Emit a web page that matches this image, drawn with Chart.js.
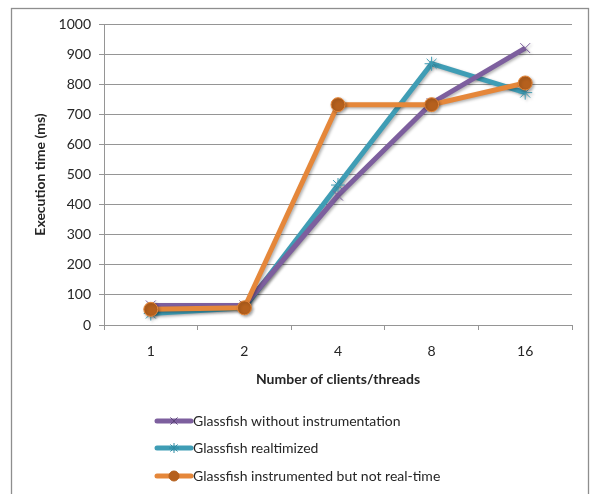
<!DOCTYPE html>
<html>
<head>
<meta charset="utf-8">
<script src="https://cdn.jsdelivr.net/npm/chart.js@4"></script>
<style>
  html, body { margin: 0; padding: 0; background: #fff; }
  #wrap { width: 592px; height: 494px; position: relative; }
</style>
</head>
<body>
<div id="wrap"><canvas id="chart" width="592" height="494"></canvas></div>
<script>
// Number of concurrent clients/threads
const categories = ['1', '2', '4', '8', '16'];

// Execution time (ms) per configuration
const withoutInstrumentation = [65, 65, 430, 737, 920];
const realtimized = [38, 57, 465, 868, 772];
const instrumentedNotRealtime = [52, 57, 732, 732, 804];

const seriesNames = [
  'Glassfish without instrumentation',
  'Glassfish realtimized',
  'Glassfish instrumented but not real-time'
];

const yMin = 0, yMax = 1000, yStep = 100;

const FONT = 'Lato, "Open Sans", "Liberation Sans", sans-serif';
const FS = 14;
const TEXT = '#262626';
const GRID = '#959595';

const PURPLE = '#7d5f9e';
const TEAL = '#3f9db5';
const ORANGE = '#e5873a';
const ORANGE_DARK = '#b5601d';

// outer frame around the chart
const framePlugin = {
  id: 'frame',
  beforeDraw(chart) {
    const ctx = chart.ctx;
    ctx.save();
    ctx.fillStyle = '#fff';
    ctx.fillRect(0, 0, chart.width, chart.height);
    ctx.strokeStyle = '#8e8e8e';
    ctx.lineWidth = 1.3;
    ctx.strokeRect(11.5, 8.5, 577, 500);
    ctx.restore();
  }
};

// soft drop shadow under the series
const shadowPlugin = {
  id: 'seriesShadow',
  beforeDatasetsDraw(chart) {
    const ctx = chart.ctx;
    ctx.save();
    ctx.shadowColor = 'rgba(0,0,0,0.30)';
    ctx.shadowBlur = 3;
    ctx.shadowOffsetX = 1.5;
    ctx.shadowOffsetY = 1.5;
  },
  afterDatasetsDraw(chart) {
    chart.ctx.restore();
  }
};

// vertical legend stacked under the axis title
const legendPlugin = {
  id: 'stackedLegend',
  afterDraw(chart) {
    const ctx = chart.ctx;
    const x0 = 157, x1 = 191, textX = 193;
    const rows = [421, 448, 476];
    ctx.save();
    chart.data.datasets.forEach((ds, i) => {
      const y = rows[i];
      ctx.strokeStyle = ds.borderColor;
      ctx.lineWidth = 5;
      ctx.lineCap = 'round';
      ctx.beginPath();
      ctx.moveTo(x0, y);
      ctx.lineTo(x1, y);
      ctx.stroke();
      ctx.lineCap = 'butt';
      ctx.lineWidth = ds.pointBorderWidth;
      ctx.fillStyle = ds.pointBackgroundColor;
      ctx.strokeStyle = ds.legendMarkColor;
      Chart.helpers.drawPoint(ctx, {
        pointStyle: ds.pointStyle,
        radius: ds.legendRadius,
        borderWidth: ds.pointBorderWidth,
        rotation: 0
      }, (x0 + x1) / 2, y);
      ctx.fillStyle = TEXT;
      ctx.font = FS + 'px ' + FONT;
      ctx.textAlign = 'left';
      ctx.textBaseline = 'middle';
      ctx.fillText(ds.label, textX, y);
    });
    ctx.restore();
  }
};

new Chart(document.getElementById('chart'), {
  type: 'line',
  data: {
    labels: categories,
    datasets: [
      {
        label: seriesNames[0],
        data: withoutInstrumentation,
        borderColor: PURPLE,
        backgroundColor: PURPLE,
        borderWidth: 5,
        pointStyle: 'crossRot',
        pointRadius: 7,
        legendRadius: 5,
        legendMarkColor: '#5b4478',
        pointBorderWidth: 1,
        pointBackgroundColor: PURPLE,
        pointBorderColor: PURPLE,
        order: 2
      },
      {
        label: seriesNames[1],
        data: realtimized,
        borderColor: TEAL,
        backgroundColor: TEAL,
        borderWidth: 5,
        pointStyle: 'star',
        pointRadius: 7,
        legendRadius: 5,
        legendMarkColor: '#2f8aa2',
        pointBorderWidth: 1,
        pointBackgroundColor: TEAL,
        pointBorderColor: TEAL,
        order: 3
      },
      {
        label: seriesNames[2],
        data: instrumentedNotRealtime,
        borderColor: ORANGE,
        backgroundColor: ORANGE,
        borderWidth: 5,
        pointStyle: 'circle',
        pointRadius: 7,
        legendRadius: 5,
        legendMarkColor: ORANGE_DARK,
        pointBorderWidth: 1,
        pointBackgroundColor: ORANGE_DARK,
        pointBorderColor: ORANGE,
        order: 1
      }
    ]
  },
  options: {
    responsive: false,
    animation: false,
    devicePixelRatio: 1,
    layout: { padding: { left: 0, right: 20, top: 24, bottom: 103 } },
    plugins: {
      legend: { display: false },
      tooltip: { enabled: false }
    },
    elements: { line: { tension: 0 } },
    scales: {
      x: {
        type: 'category',
        offset: true,
        afterFit(s) { s.height = 66; },
        grid: {
          offset: true,
          drawOnChartArea: false,
          drawTicks: true,
          tickLength: 5,
          color: GRID
        },
        border: { display: true, color: GRID, width: 1 },
        ticks: {
          color: TEXT,
          font: { family: FONT, size: FS },
          padding: 13,
          maxRotation: 0
        },
        title: {
          display: true,
          text: 'Number of clients/threads',
          color: TEXT,
          font: { family: FONT, size: FS, weight: 'bold' },
          padding: { top: 0, bottom: 3 }
        }
      },
      y: {
        min: yMin,
        max: yMax,
        afterFit(s) { s.width = 104; },
        grid: {
          drawOnChartArea: true,
          drawTicks: true,
          tickLength: 5,
          color: GRID
        },
        border: { display: true, color: GRID, width: 1 },
        ticks: {
          stepSize: yStep,
          color: TEXT,
          font: { family: FONT, size: FS },
          padding: 8,
          callback: (v) => String(v)
        },
        title: {
          display: true,
          text: 'Execution time (ms)',
          color: TEXT,
          font: { family: FONT, size: FS, weight: 'bold' },
          padding: { top: 32, bottom: 0 }
        }
      }
    }
  },
  plugins: [framePlugin, shadowPlugin, legendPlugin]
});
</script>
</body>
</html>
